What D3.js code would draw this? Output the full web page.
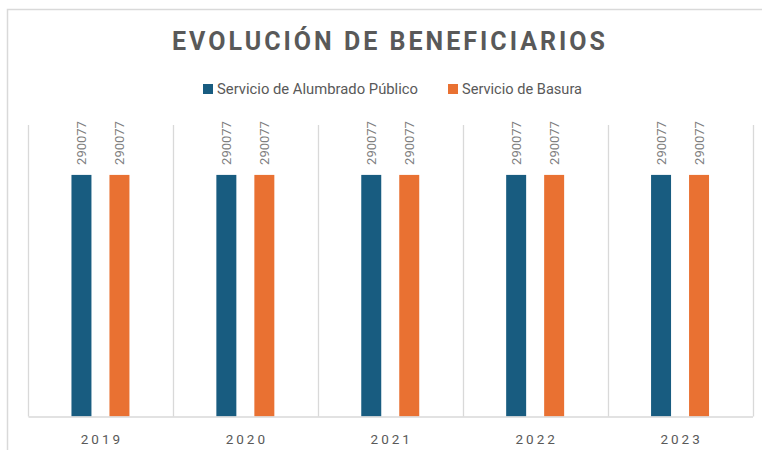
<!DOCTYPE html>
<html><head><meta charset="utf-8">
<script src="https://cdn.jsdelivr.net/npm/d3@7"></script>
<style>body{margin:0;background:#fff}svg{display:block}</style>
</head><body>
<script>
const categories = ["2019","2020","2021","2022","2023"];
const seriesNames = ["Servicio de Alumbrado Público","Servicio de Basura"];
const alumbrado = [290077,290077,290077,290077,290077];
const basura = [290077,290077,290077,290077,290077];
const colors = ["#185C80","#E97132"];
const seriesValues = [alumbrado, basura];

const W=762,H=450;
const svg=d3.select("body").append("svg").attr("width",W).attr("height",H);
svg.append("rect").attr("width",W).attr("height",H).attr("fill","#fff");
svg.append("rect").attr("x",7.5).attr("y",9.5).attr("width",800).attr("height",500)
  .attr("fill","none").attr("stroke","#d9d9d9").attr("stroke-width",1.5);

const pLeft=28,pRight=752.5,pTop=125,pBottom=416.5;
const x0=d3.scaleBand().domain(categories).range([pLeft,pRight]).padding(0);
const x1=d3.scaleBand().domain(seriesNames).range([0,x0.bandwidth()]).paddingInner(0.474).paddingOuter(1.144);
const y=d3.scaleLinear().domain([0,350000]).range([pBottom,pTop]);

// vertical grid (category separators)
const bounds=categories.map(c=>x0(c)).concat([pRight]);
svg.append("g").selectAll("line").data(bounds).join("line")
  .attr("x1",d=>Math.round(d)+0.5).attr("x2",d=>Math.round(d)+0.5)
  .attr("y1",pTop).attr("y2",pBottom).attr("stroke","#d9d9d9").attr("stroke-width",1.3);

// bars
const g=svg.append("g");
seriesNames.forEach((s,si)=>{
  const vals=seriesValues[si];
  g.selectAll(".b"+si).data(categories).join("rect").attr("class","b"+si)
    .attr("x",c=>x0(c)+x1(s)).attr("width",x1.bandwidth())
    .attr("y",(c,i)=>y(vals[i])).attr("height",(c,i)=>pBottom-y(vals[i]))
    .attr("fill",colors[si]);
  g.selectAll(".l"+si).data(categories).join("text").attr("class","l"+si)
    .attr("transform",(c,i)=>`translate(${x0(c)+x1(s)+x1.bandwidth()/2+4.5},${y(vals[i])-10}) rotate(-90)`)
    .attr("font-family","Roboto, sans-serif").attr("font-size",13).attr("fill","#7f7f7f")
    .text((c,i)=>vals[i]);
});

// x axis
const xa=svg.append("g").attr("transform",`translate(0,${pBottom})`)
  .call(d3.axisBottom(x0).tickSize(0).tickPadding(18));
xa.select(".domain").attr("stroke","#d9d9d9").attr("stroke-width",1.5);
xa.selectAll("text").attr("font-family","Roboto, sans-serif").attr("font-size",13.5)
  .attr("fill","#595959").attr("letter-spacing","3px").attr("dx","1.5px");

// title
svg.append("text").attr("x",388.5).attr("y",50).attr("text-anchor","middle")
  .attr("font-family","Roboto, sans-serif").attr("font-weight","bold").attr("font-size",25)
  .attr("fill","#595959").attr("textLength",433).attr("lengthAdjust","spacing")
  .text("EVOLUCIÓN DE BENEFICIARIOS");

// legend
const legX=[203,448];
const legLen=[201,120];
seriesNames.forEach((s,i)=>{
  svg.append("rect").attr("x",legX[i]).attr("y",84).attr("width",10).attr("height",10).attr("fill",colors[i]);
  svg.append("text").attr("x",legX[i]+14).attr("y",94)
    .attr("font-family","Roboto, sans-serif").attr("font-size",14.2).attr("fill","#595959")
    .attr("textLength",legLen[i]).attr("lengthAdjust","spacingAndGlyphs").text(s);
});
</script>
</body></html>
